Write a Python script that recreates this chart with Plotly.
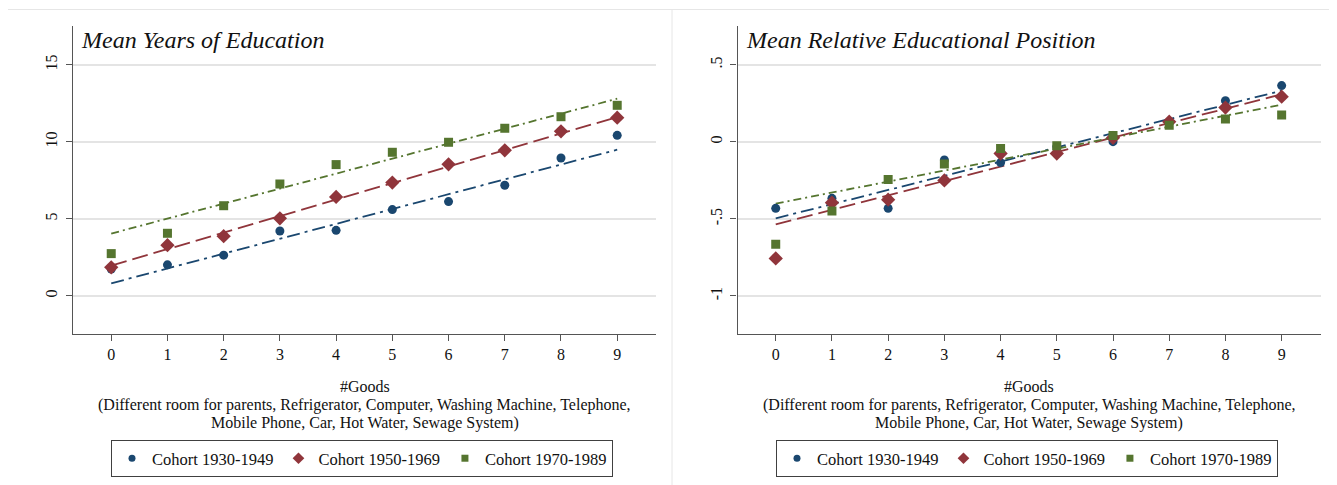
import plotly.graph_objects as go

W, H = 1337, 485
OFF = 8  # page body margin of the browser

# ---------------- data ----------------
goods = [0, 1, 2, 3, 4, 5, 6, 7, 8, 9]
cohorts = ["Cohort 1930-1949", "Cohort 1950-1969", "Cohort 1970-1989"]

edu_1930 = [1.75, 2.02, 2.65, 4.22, 4.26, 5.61, 6.13, 7.19, 8.96, 10.43]
edu_1950 = [1.86, 3.30, 3.88, 5.04, 6.43, 7.36, 8.55, 9.46, 10.69, 11.58]
edu_1970 = [2.75, 4.07, 5.86, 7.27, 8.53, 9.33, 9.98, 10.89, 11.64, 12.38]
# fitted line values at goods = 0 and goods = 9
edu_fit_1930 = [0.82, 9.50]
edu_fit_1950 = [1.97, 11.62]
edu_fit_1970 = [4.05, 12.81]

rel_1930 = [-0.431, -0.366, -0.431, -0.117, -0.134, -0.030, 0.002, 0.130, 0.268, 0.366]
rel_1950 = [-0.756, -0.394, -0.375, -0.250, -0.075, -0.075, 0.027, 0.132, 0.223, 0.294]
rel_1970 = [-0.665, -0.448, -0.243, -0.143, -0.042, -0.024, 0.042, 0.108, 0.149, 0.175]
rel_fit_1930 = [-0.496, 0.333]
rel_fit_1950 = [-0.535, 0.310]
rel_fit_1970 = [-0.400, 0.242]

fit_x = [goods[0], goods[-1]]

edu_ticks = [0, 5, 10, 15]
edu_ticktext = ["0", "5", "10", "15"]
rel_ticks = [-1, -0.5, 0, 0.5]
rel_ticktext = ["-1", "-.5", "0", ".5"]

panel_titles = ["Mean Years of Education", "Mean Relative Educational Position"]
xtitle_lines = [
    "#Goods",
    "(Different room for parents, Refrigerator, Computer, Washing Machine, Telephone,",
    "Mobile Phone, Car, Hot Water, Sewage System)",
]

# ---------------- styles ----------------
colors = ["#1a476f", "#90353b", "#55752f"]
symbols = ["circle", "diamond", "square"]
msizes = [9, 11, 9]
dashes = ["13px,5px,3px,5px", "16px,6px", "8px,4px,2px,4px"]
FONT = "Liberation Serif, Times New Roman, serif"

fig = go.Figure()

panels = [
    ("x", "y", [edu_1930, edu_1950, edu_1970], [edu_fit_1930, edu_fit_1950, edu_fit_1970], "legend"),
    ("x2", "y2", [rel_1930, rel_1950, rel_1970], [rel_fit_1930, rel_fit_1950, rel_fit_1970], "legend2"),
]

for xa, ya, series, fits, leg in panels:
    for i in range(3):
        fig.add_trace(go.Scatter(
            x=fit_x, y=fits[i], mode="lines", xaxis=xa, yaxis=ya,
            line=dict(color=colors[i], width=1.8, dash=dashes[i]),
            showlegend=False, hoverinfo="skip"))
    for i in range(3):
        fig.add_trace(go.Scatter(
            x=goods, y=series[i], mode="markers", xaxis=xa, yaxis=ya,
            marker=dict(color=colors[i], symbol=symbols[i], size=msizes[i], line=dict(width=0)),
            name=cohorts[i], showlegend=False))
    # legend entries
    for i in range(3):
        fig.add_trace(go.Scatter(
            x=[None], y=[None], mode="markers", xaxis=xa, yaxis=ya,
            marker=dict(color=colors[i], symbol=symbols[i], size=[7, 9, 7][i]),
            name=cohorts[i], legend=leg, showlegend=True))

def px_x(v):
    return (v - OFF) / W

def px_y(v):
    return 1 - (v - OFF) / H

axis_common = dict(
    showline=True, linecolor="#555555", linewidth=1.3, mirror=False,
    ticks="outside", tickcolor="#555555", ticklen=6, tickwidth=1.2,
    zeroline=False, tickfont=dict(family=FONT, size=16, color="#111111"),
)

fig.update_layout(
    width=W, height=H,
    margin=dict(l=0, r=0, t=0, b=0),
    paper_bgcolor="white", plot_bgcolor="white",
    font=dict(family=FONT, color="#111111"),
    xaxis=dict(domain=[px_x(73), px_x(656)], range=[-0.68, 9.69],
               tickvals=goods, showgrid=False, anchor="y", **axis_common),
    yaxis=dict(domain=[px_y(334), px_y(26)], range=[-2.47, 17.53],
               tickvals=edu_ticks, ticktext=edu_ticktext, tickangle=-90, ticklabelstandoff=2,
               showgrid=True, gridcolor="#e4e4e4", gridwidth=1.5, anchor="x", **axis_common),
    xaxis2=dict(domain=[px_x(737.5), px_x(1321)], range=[-0.68, 9.7],
                tickvals=goods, showgrid=False, anchor="y2", **axis_common),
    yaxis2=dict(domain=[px_y(334), px_y(26)], range=[-1.247, 0.753],
                tickvals=rel_ticks, ticktext=rel_ticktext, tickangle=-90, ticklabelstandoff=2,
                showgrid=True, gridcolor="#e4e4e4", gridwidth=1.5, anchor="x2", **axis_common),
    legend=dict(orientation="h", x=px_x(111), y=px_y(440), xanchor="left", yanchor="top",
                bordercolor="#404040", borderwidth=1, bgcolor="white",
                font=dict(family=FONT, size=16.5, color="#111111"), itemwidth=30),
    legend2=dict(orientation="h", x=px_x(776), y=px_y(440), xanchor="left", yanchor="top",
                 bordercolor="#404040", borderwidth=1, bgcolor="white",
                 font=dict(family=FONT, size=16.5, color="#111111"), itemwidth=30),
    showlegend=True,
)

annotations = []
title_x = [79, 744]
centers = [(73 + 656) / 2, (737.5 + 1321) / 2]
line_y = [386, 404.5, 423]
for p in range(2):
    annotations.append(dict(
        text=panel_titles[p], xref="paper", yref="paper",
        x=px_x(title_x[p]), y=px_y(40), xanchor="left", yanchor="middle",
        showarrow=False, font=dict(family=FONT, size=24, color="#111111", style="italic")))
    for k, t in enumerate(xtitle_lines):
        annotations.append(dict(
            text=t, xref="paper", yref="paper",
            x=px_x(centers[p]), y=px_y(line_y[k]), xanchor="center", yanchor="middle",
            showarrow=False, font=dict(family=FONT, size=16, color="#111111")))
fig.update_layout(annotations=annotations)

# faint outer panel frames
shape_style = dict(type="line", xref="paper", yref="paper", line=dict(color="#e6e6e6", width=1))
shapes = [
    dict(x0=px_x(7), x1=px_x(1336), y0=px_y(9.5), y1=px_y(9.5), **shape_style),
    dict(x0=px_x(7), x1=px_x(7), y0=px_y(9.5), y1=0, **shape_style),
    dict(x0=px_x(672), x1=px_x(672), y0=px_y(9.5), y1=0, **shape_style),
    dict(x0=px_x(1336), x1=px_x(1336), y0=px_y(9.5), y1=0, **shape_style),
]
fig.update_layout(shapes=shapes)

fig.write_html("out.html")
